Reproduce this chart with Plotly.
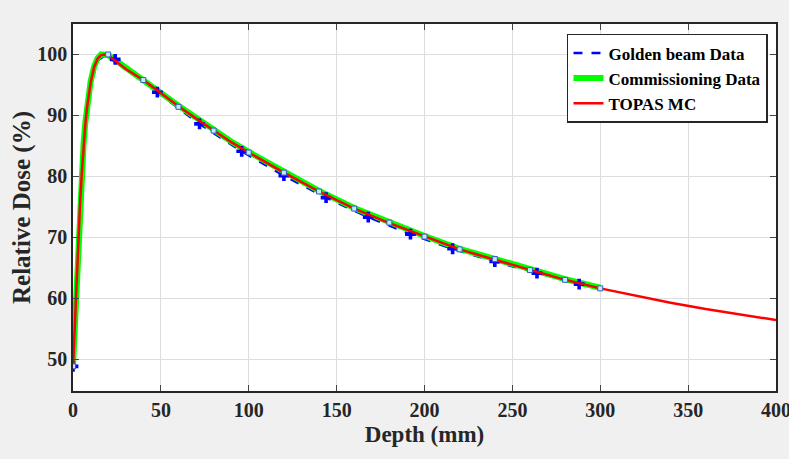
import plotly.graph_objects as go

# TOPAS MC (red), full depth range
topas_depth = [0, 1, 2, 3, 4, 5, 6, 7, 8, 10, 12, 14, 16, 18, 20, 25, 30, 40, 50, 60, 70, 80, 90,
               100, 120, 140, 160, 180, 200, 220, 240, 260, 280, 300, 320, 340, 360, 380, 400]
topas_dose = [48.5, 55.5, 62.5, 69.5, 75.5, 80.5, 85.0, 88.5, 91.3, 95.3, 97.9, 99.3, 99.9, 100.0, 99.9,
              98.8, 97.6, 95.8, 93.6, 91.5, 89.5, 87.5, 85.6, 83.9, 80.6, 77.5, 74.7, 72.3, 70.1,
              68.0, 66.3, 64.6, 63.0, 61.6, 60.4, 59.25, 58.2, 57.25, 56.4]

# Commissioning data (green), to 300 mm
comm_depth = [0, 1, 2, 3, 4, 5, 6, 7, 8, 10, 12, 14, 16, 18, 20, 25, 30, 40, 50, 60, 70, 80, 90,
              100, 120, 140, 160, 180, 200, 220, 240, 260, 280, 300]
comm_dose = [48.8, 55.8, 62.8, 69.8, 75.8, 80.8, 85.3, 88.8, 91.6, 95.5, 98.0, 99.4, 100.0, 100.0, 99.9,
             98.9, 97.8, 95.9, 93.7, 91.6, 89.6, 87.6, 85.7, 84.0, 80.7, 77.6, 74.8, 72.4, 70.2,
             68.1, 66.4, 64.7, 63.1, 61.7]

# Golden beam data (blue)
golden_depth = [0, 24, 48, 72, 96, 120, 144, 168, 192, 216, 240, 264, 288]
golden_dose = [48.8, 99.2, 93.8, 88.6, 84.1, 80.1, 76.5, 73.3, 70.5, 68.1, 66.0, 64.1, 62.3]
golden_line_depth = [0, 2, 4, 6, 8, 10, 14, 18, 24, 48, 72, 96, 120, 144, 168, 192, 216, 240, 264, 288, 300]
golden_line_dose = [48.8, 62.3, 75.2, 84.8, 91.0, 95.0, 99.0, 99.8, 99.2, 93.8, 88.6, 84.1, 80.1,
                    76.5, 73.3, 70.5, 68.1, 66.0, 64.1, 62.3, 61.5]

# square sample markers every 20 mm
square_depth = [0, 20, 40, 60, 80, 100, 120, 140, 160, 180, 200, 220, 240, 260, 280, 300]
square_dose = [48.8, 100.0, 95.8, 91.4, 87.5, 83.9, 80.6, 77.5, 74.7, 72.4, 70.1, 68.0, 66.4, 64.6, 63.0, 61.6]

x_ticks = [0, 50, 100, 150, 200, 250, 300, 350, 400]
y_ticks = [50, 60, 70, 80, 90, 100]

fig = go.Figure()
fig.add_trace(go.Scatter(x=golden_line_depth, y=golden_line_dose, mode="lines",
                         line=dict(color="#0000ff", width=2.5, dash="dash"),
                         name="Golden beam Data"))
fig.add_trace(go.Scatter(x=comm_depth, y=comm_dose, mode="lines",
                         line=dict(color="#00ff00", width=6),
                         name="Commissioning Data"))
fig.add_trace(go.Scatter(x=golden_depth, y=golden_dose, mode="markers",
                         marker=dict(symbol="cross", size=9, color="#0000ff"),
                         showlegend=False))
fig.add_trace(go.Scatter(x=topas_depth, y=topas_dose, mode="lines",
                         line=dict(color="#ff0000", width=2.5),
                         name="TOPAS MC"))
fig.add_trace(go.Scatter(x=square_depth, y=square_dose, mode="markers",
                         marker=dict(symbol="square", size=5, color="#c8e8f8",
                                     line=dict(color="#3060c0", width=1)),
                         showlegend=False))

font_family = "Liberation Serif, Times New Roman, Times, serif"
fig.update_layout(
    width=789, height=459,
    margin=dict(l=73, r=13, t=24, b=68, autoexpand=False),
    paper_bgcolor="#f0f0f0",
    plot_bgcolor="white",
    font=dict(family=font_family, color="#262626"),
    showlegend=True,
    legend=dict(x=0.9886, y=0.973, xanchor="right", yanchor="top",
                bgcolor="white", bordercolor="#262626", borderwidth=1.5,
                font=dict(family=font_family, size=17, color="black", weight="bold"),
                tracegroupgap=0, itemwidth=30),
    xaxis=dict(range=[0, 400], tickvals=x_ticks, ticks="inside", ticklen=6, automargin=False,
               ticklabeloverflow="allow",
               showline=True, linecolor="#262626", linewidth=1.5, mirror="ticks",
               showgrid=True, gridcolor="#dedede", gridwidth=1, zeroline=False,
               tickfont=dict(family=font_family, size=20, color="#262626", weight="bold"),
               title=dict(text="Depth (mm)", standoff=6,
                          font=dict(family=font_family, size=23, color="#262626", weight="bold"))),
    yaxis=dict(range=[44.75, 105.0], tickvals=y_ticks, ticks="inside", ticklen=6, automargin=False,
               ticklabeloverflow="allow",
               showline=True, linecolor="#262626", linewidth=1.5, mirror="ticks",
               showgrid=True, gridcolor="#dedede", gridwidth=1, zeroline=False,
               tickfont=dict(family=font_family, size=20, color="#262626", weight="bold"),
               title=dict(text="Relative Dose (%)", standoff=0,
                          font=dict(family=font_family, size=25, color="#262626", weight="bold"))),
)
fig.write_html("out.html")
